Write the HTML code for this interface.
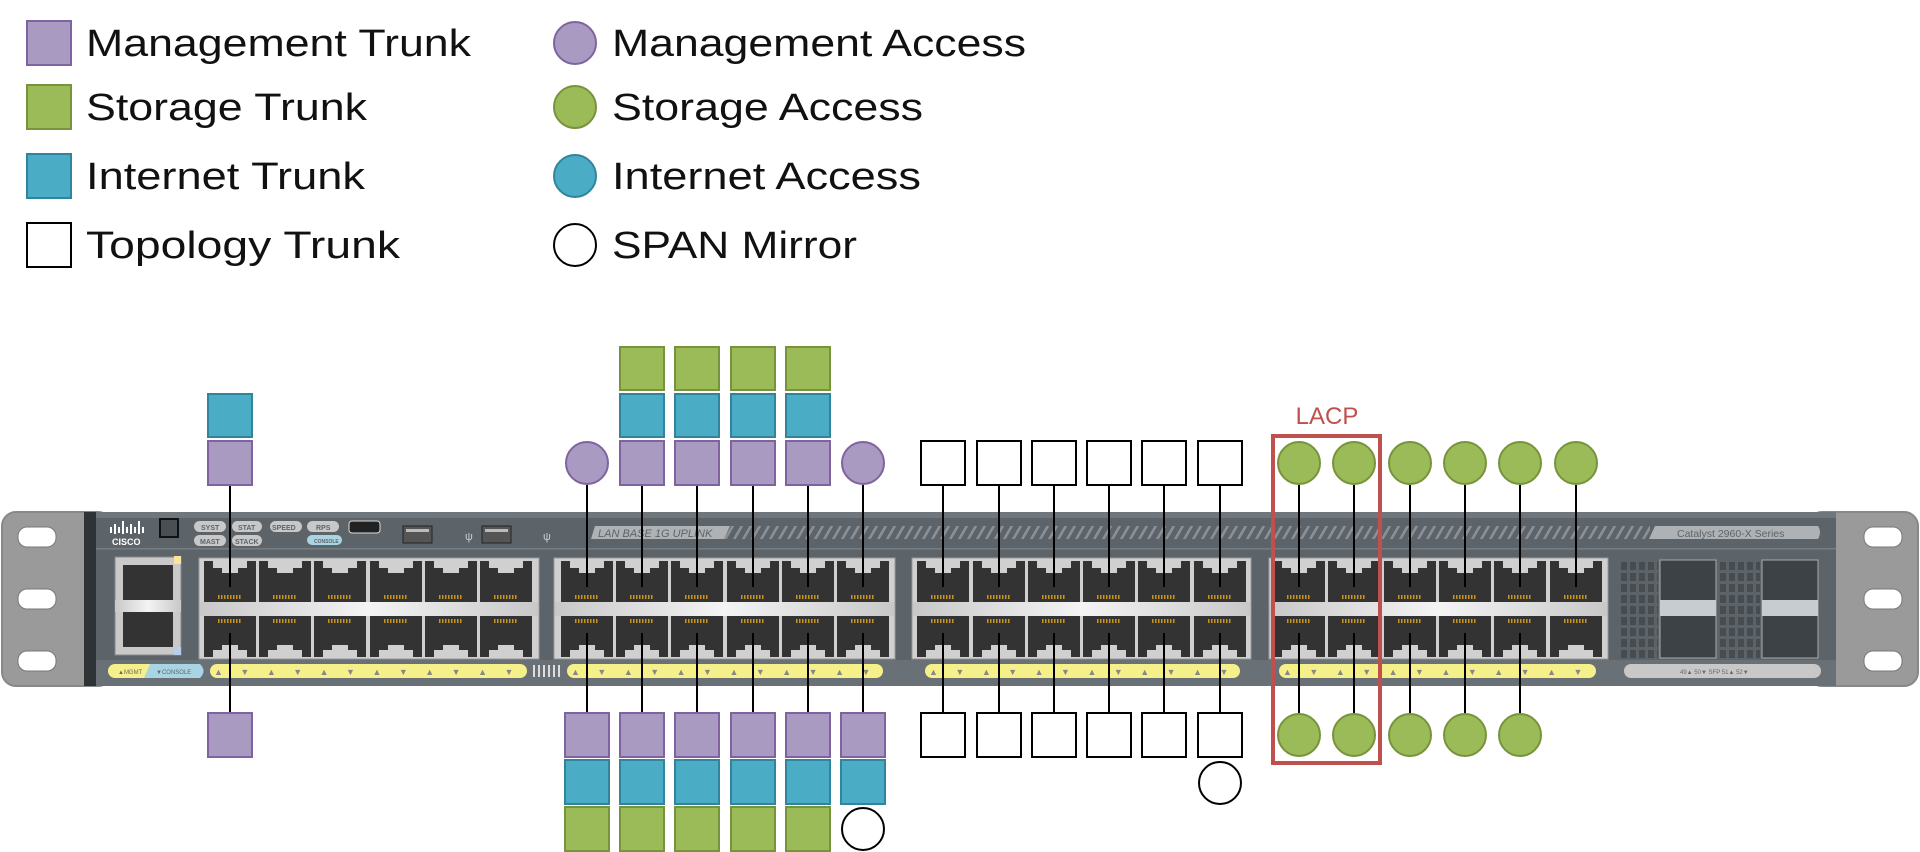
<!DOCTYPE html>
<html><head><meta charset="utf-8"><style>
html,body{margin:0;padding:0;background:#fff;}
svg{display:block;}
text{font-family:"Liberation Sans","DejaVu Sans",sans-serif;}
</style></head><body>
<svg width="1920" height="852" viewBox="0 0 1920 852" xmlns="http://www.w3.org/2000/svg">
<defs>
<linearGradient id="bar" x1="0" x2="1" y1="0" y2="0">
<stop offset="0" stop-color="#c8c8c8"/><stop offset="0.5" stop-color="#f4f4f4"/><stop offset="1" stop-color="#c8c8c8"/>
</linearGradient>
<pattern id="hatch" width="9" height="14" patternUnits="userSpaceOnUse" patternTransform="skewX(-30)">
<rect width="9" height="14" fill="#5d6469"/><rect width="3" height="14" fill="#8a9096"/>
</pattern>
<pattern id="grid" width="9" height="11" patternUnits="userSpaceOnUse">
<rect width="9" height="11" fill="#5d6469"/><rect x="1" y="1" width="6" height="8" fill="#474c50"/>
</pattern>
<g id="pc">
<rect x="-26" y="561" width="52" height="41" fill="#333"/>
<rect x="-17" y="561" width="34" height="7" fill="#d0d0d0"/>
<rect x="-8" y="568" width="16" height="5" fill="#d0d0d0"/>
<line x1="-12" y1="597" x2="12" y2="597" stroke="#c8961e" stroke-width="4" stroke-dasharray="1.5 1.5"/>
<rect x="-26" y="616" width="52" height="41" fill="#333"/>
<rect x="-17" y="650" width="34" height="7" fill="#d0d0d0"/>
<rect x="-8" y="645" width="16" height="5" fill="#d0d0d0"/>
<line x1="-12" y1="621" x2="12" y2="621" stroke="#c8961e" stroke-width="4" stroke-dasharray="1.5 1.5"/>
</g>
</defs>

<!-- Legend -->
<g stroke-width="2">
<rect x="27" y="21" width="44" height="44" fill="#a99ac1" stroke="#7f63a0"/>
<rect x="27" y="85" width="44" height="44" fill="#9bbb59" stroke="#77933c"/>
<rect x="27" y="154" width="44" height="44" fill="#4bacc6" stroke="#31849b"/>
<rect x="27" y="223" width="44" height="44" fill="#fff" stroke="#000"/>
<circle cx="575" cy="43" r="21" fill="#a99ac1" stroke="#7f63a0"/>
<circle cx="575" cy="107" r="21" fill="#9bbb59" stroke="#77933c"/>
<circle cx="575" cy="176" r="21" fill="#4bacc6" stroke="#31849b"/>
<circle cx="575" cy="245" r="21" fill="#fff" stroke="#000"/>
</g>
<g font-size="38" fill="#111">
<text x="86" y="56" textLength="385" lengthAdjust="spacingAndGlyphs">Management Trunk</text>
<text x="86" y="120" textLength="281" lengthAdjust="spacingAndGlyphs">Storage Trunk</text>
<text x="86" y="189" textLength="279" lengthAdjust="spacingAndGlyphs">Internet Trunk</text>
<text x="86" y="258" textLength="314" lengthAdjust="spacingAndGlyphs">Topology Trunk</text>
<text x="612" y="56" textLength="414" lengthAdjust="spacingAndGlyphs">Management Access</text>
<text x="612" y="120" textLength="311" lengthAdjust="spacingAndGlyphs">Storage Access</text>
<text x="612" y="189" textLength="309" lengthAdjust="spacingAndGlyphs">Internet Access</text>
<text x="612" y="258" textLength="245" lengthAdjust="spacingAndGlyphs">SPAN Mirror</text>
</g>

<!-- Switch chassis -->
<rect x="2" y="512" width="110" height="174" rx="14" fill="#9a9a9a" stroke="#888" stroke-width="2"/>
<rect x="1808" y="512" width="110" height="174" rx="14" fill="#9a9a9a" stroke="#888" stroke-width="2"/>
<g fill="#fff" stroke="#777" stroke-width="1">
<rect x="18" y="527" width="38" height="20" rx="9"/><rect x="18" y="589" width="38" height="20" rx="9"/><rect x="18" y="651" width="38" height="20" rx="9"/>
<rect x="1864" y="527" width="38" height="20" rx="9"/><rect x="1864" y="589" width="38" height="20" rx="9"/><rect x="1864" y="651" width="38" height="20" rx="9"/>
</g>
<rect x="84" y="512" width="1752" height="174" fill="#5d6469"/>
<rect x="84" y="512" width="1752" height="6" fill="#70777c"/>
<rect x="84" y="512" width="12" height="174" fill="#2e3336"/>
<rect x="96" y="548" width="1740" height="1.5" fill="#767d82"/>
<rect x="96" y="660" width="1740" height="26" fill="#6a7176"/>

<!-- top band details -->
<g fill="#fff">
<rect x="110" y="527" width="2" height="6"/><rect x="114" y="524" width="2" height="10"/><rect x="118" y="527" width="2" height="6"/><rect x="122" y="521" width="2" height="13"/><rect x="126" y="527" width="2" height="6"/><rect x="130" y="524" width="2" height="10"/><rect x="134" y="527" width="2" height="6"/><rect x="138" y="521" width="2" height="13"/><rect x="142" y="527" width="2" height="6"/>
</g>
<text x="112" y="545" font-size="9" font-weight="bold" fill="#fff">CISCO</text>
<rect x="160" y="519" width="18" height="18" fill="#4a4f53" stroke="#111" stroke-width="2"/>
<g fill="#c8c8c8">
<rect x="194" y="521" width="32" height="11" rx="5.5"/><rect x="232" y="521" width="30" height="11" rx="5.5"/><rect x="270" y="521" width="32" height="11" rx="5.5"/><rect x="307" y="521" width="32" height="11" rx="5.5"/>
<rect x="194" y="535" width="32" height="11" rx="5.5"/><rect x="232" y="535" width="30" height="11" rx="5.5"/>
</g>
<rect x="307" y="535" width="35" height="10" rx="5" fill="#a9d4e4"/>
<g font-size="7" fill="#5d6469" font-weight="bold">
<text x="201" y="530">SYST</text><text x="238" y="530">STAT</text><text x="272" y="530">SPEED</text><text x="316" y="530">RPS</text>
<text x="200" y="544">MAST</text><text x="235" y="544">STACK</text><text x="314" y="543" font-size="5">CONSOLE</text>
</g>
<rect x="349" y="521" width="31" height="12" rx="3" fill="#222" stroke="#ddd" stroke-width="1"/>
<rect x="403" y="526" width="29" height="17" fill="#555" stroke="#222" stroke-width="1"/>
<rect x="406" y="529" width="23" height="3" fill="#bbb"/>
<rect x="482" y="526" width="29" height="17" fill="#555" stroke="#222" stroke-width="1"/>
<rect x="485" y="529" width="23" height="3" fill="#bbb"/>
<text x="465" y="540" font-size="11" fill="#ccc">ψ</text><text x="543" y="540" font-size="11" fill="#ccc">ψ</text>
<rect x="720" y="526" width="930" height="13" fill="url(#hatch)"/>
<path d="M595 526 H730 L724 539 H591 Z" fill="#aeb2b5"/>
<text x="598" y="537" font-size="11" font-style="italic" fill="#5d6469">LAN BASE 1G UPLINK</text>
<path d="M1655 526 H1818 Q1822 532 1818 539 H1649 Z" fill="#aeb2b5"/>
<text x="1677" y="537" font-size="10.5" fill="#5d6469">Catalyst 2960-X Series</text>

<!-- console ports -->
<rect x="115" y="557" width="66" height="98" fill="#c9c9c9" stroke="#888"/>
<rect x="123" y="565" width="50" height="37" fill="#333"/><rect x="123" y="611" width="50" height="36" fill="#333"/>
<rect x="115" y="600" width="66" height="12" fill="url(#bar)"/>
<rect x="174" y="556" width="7" height="8" fill="#fce39a"/><rect x="174" y="647" width="7" height="8" fill="#b7cde8"/>

<!-- port groups -->
<g fill="#d0d0d0" stroke="#9a9a9a" stroke-width="1">
<rect x="199" y="558" width="340" height="101"/>
<rect x="554" y="558" width="341" height="101"/>
<rect x="912" y="558" width="339" height="101"/>
<rect x="1269" y="558" width="339" height="101"/>
</g>
<g fill="url(#bar)">
<rect x="200" y="602" width="338" height="14"/><rect x="555" y="602" width="339" height="14"/><rect x="913" y="602" width="337" height="14"/><rect x="1270" y="602" width="337" height="14"/>
</g>
<use href="#pc" x="230"/><use href="#pc" x="285"/><use href="#pc" x="340"/><use href="#pc" x="396"/><use href="#pc" x="451"/><use href="#pc" x="506"/>
<use href="#pc" x="587"/><use href="#pc" x="642"/><use href="#pc" x="697"/><use href="#pc" x="753"/><use href="#pc" x="808"/><use href="#pc" x="863"/>
<use href="#pc" x="943"/><use href="#pc" x="999"/><use href="#pc" x="1054"/><use href="#pc" x="1109"/><use href="#pc" x="1164"/><use href="#pc" x="1220"/>
<use href="#pc" x="1299"/><use href="#pc" x="1354"/><use href="#pc" x="1410"/><use href="#pc" x="1465"/><use href="#pc" x="1520"/><use href="#pc" x="1576"/>
<!-- SFP area -->
<rect x="1618" y="562" width="40" height="96" fill="url(#grid)"/>
<rect x="1720" y="562" width="40" height="96" fill="url(#grid)"/>
<rect x="1660" y="560" width="56" height="98" fill="#3d4246" stroke="#aaa"/>
<rect x="1762" y="560" width="56" height="98" fill="#3d4246" stroke="#aaa"/>
<path d="M1660 600 H1716 V616 H1660 Z" fill="#c8ccd0"/><path d="M1762 600 H1818 V616 H1762 Z" fill="#c8ccd0"/>

<!-- LED strips -->
<g fill="#f6f08a">
<rect x="108" y="664" width="92" height="14" rx="7"/>
<rect x="210" y="664" width="317" height="14" rx="7"/>
<rect x="567" y="664" width="316" height="14" rx="7"/>
<rect x="925" y="664" width="315" height="14" rx="7"/>
<rect x="1279" y="664" width="317" height="14" rx="7"/>
</g>
<path d="M150 664 H200 Q207 671 200 678 H144 Z" fill="#a9d4e4"/>
<rect x="1624" y="664" width="197" height="14" rx="7" fill="#c8c8c8"/>
<g font-size="6" fill="#666"><text x="118" y="674">▲MGMT</text><text x="156" y="674">▼CONSOLE</text><text x="1680" y="674">49▲ 50▼  SFP  51▲ 52▼</text></g>
<g font-size="9" fill="#888">
<text x="214" y="675" letter-spacing="17.5">▲▼▲▼▲▼▲▼▲▼▲▼</text>
<text x="571" y="675" letter-spacing="17.5">▲▼▲▼▲▼▲▼▲▼▲▼</text>
<text x="929" y="675" letter-spacing="17.5">▲▼▲▼▲▼▲▼▲▼▲▼</text>
<text x="1283" y="675" letter-spacing="17.5">▲▼▲▼▲▼▲▼▲▼▲▼</text>
</g>
<g fill="#ddd"><rect x="533" y="665" width="2" height="12"/><rect x="538" y="665" width="2" height="12"/><rect x="543" y="665" width="2" height="12"/><rect x="548" y="665" width="2" height="12"/><rect x="553" y="665" width="2" height="12"/><rect x="558" y="665" width="2" height="12"/></g>

<!-- connector lines -->
<g stroke="#000" stroke-width="2">
<line x1="230" y1="485" x2="230" y2="587"/><line x1="230" y1="633" x2="230" y2="713"/>
<line x1="587" y1="485" x2="587" y2="587"/><line x1="587" y1="633" x2="587" y2="713"/>
<line x1="642" y1="485" x2="642" y2="587"/><line x1="642" y1="633" x2="642" y2="713"/>
<line x1="697" y1="485" x2="697" y2="587"/><line x1="697" y1="633" x2="697" y2="713"/>
<line x1="753" y1="485" x2="753" y2="587"/><line x1="753" y1="633" x2="753" y2="713"/>
<line x1="808" y1="485" x2="808" y2="587"/><line x1="808" y1="633" x2="808" y2="713"/>
<line x1="863" y1="485" x2="863" y2="587"/><line x1="863" y1="633" x2="863" y2="713"/>
<line x1="943" y1="485" x2="943" y2="587"/><line x1="943" y1="633" x2="943" y2="713"/>
<line x1="999" y1="485" x2="999" y2="587"/><line x1="999" y1="633" x2="999" y2="713"/>
<line x1="1054" y1="485" x2="1054" y2="587"/><line x1="1054" y1="633" x2="1054" y2="713"/>
<line x1="1109" y1="485" x2="1109" y2="587"/><line x1="1109" y1="633" x2="1109" y2="713"/>
<line x1="1164" y1="485" x2="1164" y2="587"/><line x1="1164" y1="633" x2="1164" y2="713"/>
<line x1="1220" y1="485" x2="1220" y2="587"/><line x1="1220" y1="633" x2="1220" y2="713"/>
<line x1="1299" y1="485" x2="1299" y2="587"/><line x1="1299" y1="633" x2="1299" y2="713"/>
<line x1="1354" y1="485" x2="1354" y2="587"/><line x1="1354" y1="633" x2="1354" y2="713"/>
<line x1="1410" y1="485" x2="1410" y2="587"/><line x1="1410" y1="633" x2="1410" y2="713"/>
<line x1="1465" y1="485" x2="1465" y2="587"/><line x1="1465" y1="633" x2="1465" y2="713"/>
<line x1="1520" y1="485" x2="1520" y2="587"/><line x1="1520" y1="633" x2="1520" y2="713"/>
<line x1="1576" y1="485" x2="1576" y2="587"/>
</g>

<!-- nodes -->
<g stroke-width="2">
<rect x="208" y="394" width="44" height="43" fill="#4bacc6" stroke="#31849b"/>
<rect x="208" y="441" width="44" height="44" fill="#a99ac1" stroke="#7f63a0"/>
<rect x="208" y="713" width="44" height="44" fill="#a99ac1" stroke="#7f63a0"/>
<circle cx="587" cy="463" r="21" fill="#a99ac1" stroke="#7f63a0"/>
<circle cx="863" cy="463" r="21" fill="#a99ac1" stroke="#7f63a0"/>
<g fill="#9bbb59" stroke="#77933c">
<rect x="620" y="347" width="44" height="43"/><rect x="675" y="347" width="44" height="43"/><rect x="731" y="347" width="44" height="43"/><rect x="786" y="347" width="44" height="43"/>
</g>
<g fill="#4bacc6" stroke="#31849b">
<rect x="620" y="394" width="44" height="43"/><rect x="675" y="394" width="44" height="43"/><rect x="731" y="394" width="44" height="43"/><rect x="786" y="394" width="44" height="43"/>
</g>
<g fill="#a99ac1" stroke="#7f63a0">
<rect x="620" y="441" width="44" height="44"/><rect x="675" y="441" width="44" height="44"/><rect x="731" y="441" width="44" height="44"/><rect x="786" y="441" width="44" height="44"/>
</g>
<g fill="#a99ac1" stroke="#7f63a0">
<rect x="565" y="713" width="44" height="44"/><rect x="620" y="713" width="44" height="44"/><rect x="675" y="713" width="44" height="44"/><rect x="731" y="713" width="44" height="44"/><rect x="786" y="713" width="44" height="44"/><rect x="841" y="713" width="44" height="44"/>
</g>
<g fill="#4bacc6" stroke="#31849b">
<rect x="565" y="760" width="44" height="44"/><rect x="620" y="760" width="44" height="44"/><rect x="675" y="760" width="44" height="44"/><rect x="731" y="760" width="44" height="44"/><rect x="786" y="760" width="44" height="44"/><rect x="841" y="760" width="44" height="44"/>
</g>
<g fill="#9bbb59" stroke="#77933c">
<rect x="565" y="807" width="44" height="44"/><rect x="620" y="807" width="44" height="44"/><rect x="675" y="807" width="44" height="44"/><rect x="731" y="807" width="44" height="44"/><rect x="786" y="807" width="44" height="44"/>
</g>
<circle cx="863" cy="829" r="21" fill="#fff" stroke="#000"/>
<g fill="#fff" stroke="#000">
<rect x="921" y="441" width="44" height="44"/><rect x="977" y="441" width="44" height="44"/><rect x="1032" y="441" width="44" height="44"/><rect x="1087" y="441" width="44" height="44"/><rect x="1142" y="441" width="44" height="44"/><rect x="1198" y="441" width="44" height="44"/>
<rect x="921" y="713" width="44" height="44"/><rect x="977" y="713" width="44" height="44"/><rect x="1032" y="713" width="44" height="44"/><rect x="1087" y="713" width="44" height="44"/><rect x="1142" y="713" width="44" height="44"/><rect x="1198" y="713" width="44" height="44"/>
<circle cx="1220" cy="783" r="21"/>
</g>
<g fill="#9bbb59" stroke="#77933c">
<circle cx="1299" cy="463" r="21"/><circle cx="1354" cy="463" r="21"/><circle cx="1410" cy="463" r="21"/><circle cx="1465" cy="463" r="21"/><circle cx="1520" cy="463" r="21"/><circle cx="1576" cy="463" r="21"/>
<circle cx="1299" cy="735" r="21"/><circle cx="1354" cy="735" r="21"/><circle cx="1410" cy="735" r="21"/><circle cx="1465" cy="735" r="21"/><circle cx="1520" cy="735" r="21"/>
</g>
</g>
<rect x="1273" y="436" width="107" height="327" fill="none" stroke="#c0504d" stroke-width="4"/>
<text x="1327" y="424" font-size="24" fill="#c0504d" text-anchor="middle">LACP</text>
</svg>
</body></html>
